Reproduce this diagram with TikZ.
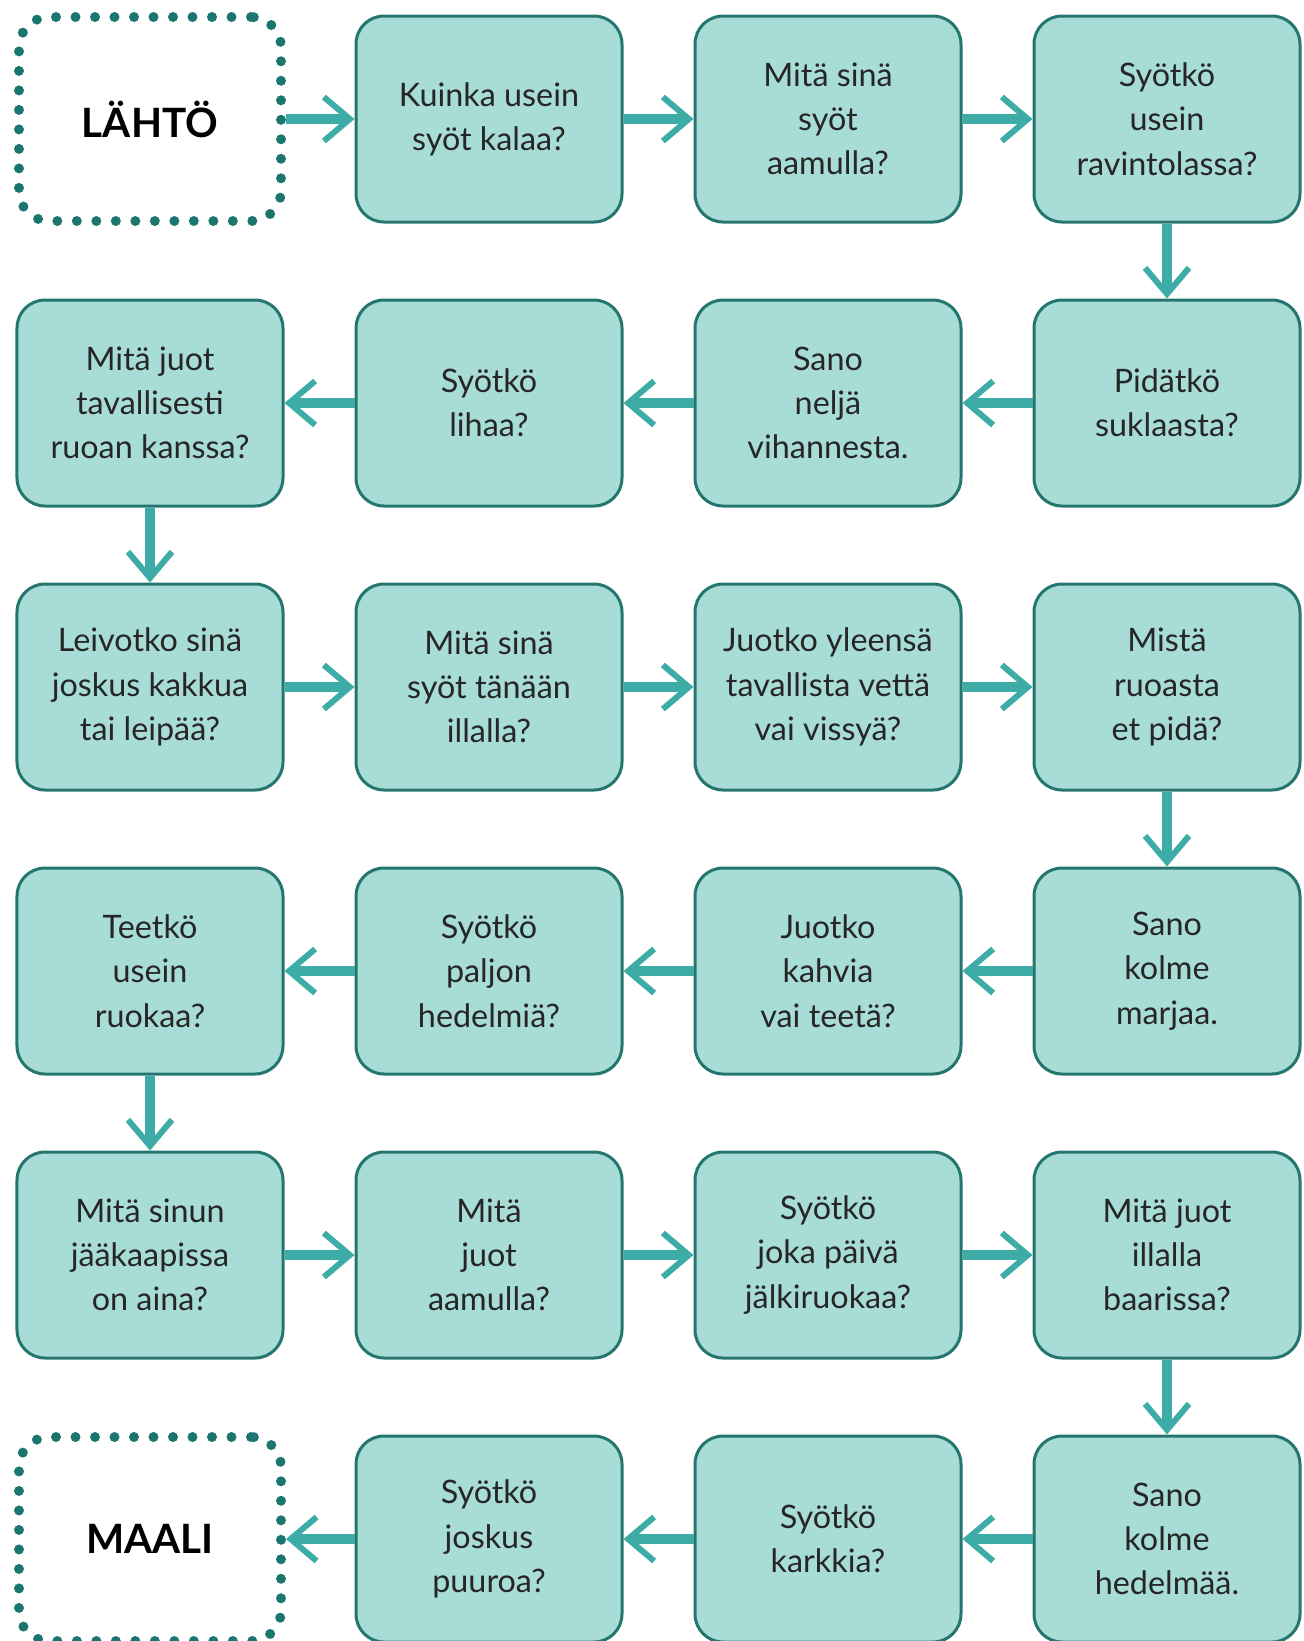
\documentclass[tikz,border=0pt]{standalone}
\usepackage{fontspec}
\setmainfont{Lato}
\usetikzlibrary{positioning, arrows.meta}

\definecolor{boxfill}{RGB}{168,220,214}
\definecolor{boxline}{RGB}{38,118,112}
\definecolor{arrowcol}{RGB}{62,172,166}
\definecolor{dotcol}{RGB}{28,118,112}

\begin{document}
\begin{tikzpicture}[>={Straight Barb[length=2.6mm, width=4.4mm, line width=0.6mm]},
    font=\fontsize{9.2}{12.6}\selectfont, node distance=7.5mm and 7.0mm,
    qbox/.style={draw=boxline, line width=0.3mm, fill=boxfill, rounded corners=2.8mm,
      minimum width=26.6mm, minimum height=20.6mm, align=center, inner sep=1pt,
      text=black!85},
    endbox/.style={draw=dotcol, line width=1mm, line cap=round,
      dash pattern=on 0pt off 1.95mm, rounded corners=3mm,
      minimum width=26.2mm, minimum height=20.4mm,
      font=\fontsize{11.5}{14}\selectfont\bfseries},
    link/.style={->, draw=arrowcol, line width=1mm}]
    \useasboundingbox (0,0) rectangle (13.04,-16.41);
    % row 1
    \node[endbox] (start) at (1.5,-1.19) {LÄHTÖ};
    \node[qbox] (q1) at (4.89,-1.19) {Kuinka usein\\syöt kalaa?};
    \node[qbox, right=of q1] (q2) {Mitä sinä\\syöt\\aamulla?};
    \node[qbox, right=of q2] (q3) {Syötkö\\usein\\ravintolassa?};
    % row 2
    \node[qbox, below=of q3] (q4) {Pidätkö\\suklaasta?};
    \node[qbox, left=of q4]  (q5) {Sano\\neljä\\vihannesta.};
    \node[qbox, left=of q5]  (q6) {Syötkö\\lihaa?};
    \node[qbox, left=of q6]  (q7) {Mitä juot\\tavallisesti\\ruoan kanssa?};
    % row 3
    \node[qbox, below=of q7] (q8)  {Leivotko sinä\\joskus kakkua\\tai leipää?};
    \node[qbox, right=of q8] (q9)  {Mitä sinä\\syöt tänään\\illalla?};
    \node[qbox, right=of q9] (q10) {Juotko yleensä\\tavallista vettä\\vai vissyä?};
    \node[qbox, right=of q10] (q11) {Mistä\\ruoasta\\et pidä?};
    % row 4
    \node[qbox, below=of q11] (q12) {Sano\\kolme\\marjaa.};
    \node[qbox, left=of q12]  (q13) {Juotko\\kahvia\\vai teetä?};
    \node[qbox, left=of q13]  (q14) {Syötkö\\paljon\\hedelmiä?};
    \node[qbox, left=of q14]  (q15) {Teetkö\\usein\\ruokaa?};
    % row 5
    \node[qbox, below=of q15] (q16) {Mitä sinun\\jääkaapissa\\on aina?};
    \node[qbox, right=of q16] (q17) {Mitä\\juot\\aamulla?};
    \node[qbox, right=of q17] (q18) {Syötkö\\joka päivä\\jälkiruokaa?};
    \node[qbox, right=of q18] (q19) {Mitä juot\\illalla\\baarissa?};
    % row 6
    \node[qbox, below=of q19] (q20) {Sano\\kolme\\hedelmää.};
    \node[qbox, left=of q20]  (q21) {Syötkö\\karkkia?};
    \node[qbox, left=of q21]  (q22) {Syötkö\\joskus\\puuroa?};
    \node[endbox] (goal) at (start |- q22) {MAALI};
    % arrows
    \draw[link] (start) -- (q1);
    \draw[link] (q1) -- (q2);
    \draw[link] (q2) -- (q3);
    \draw[link] (q3) -- (q4);
    \draw[link] (q4) -- (q5);
    \draw[link] (q5) -- (q6);
    \draw[link] (q6) -- (q7);
    \draw[link] (q7) -- (q8);
    \draw[link] (q8) -- (q9);
    \draw[link] (q9) -- (q10);
    \draw[link] (q10) -- (q11);
    \draw[link] (q11) -- (q12);
    \draw[link] (q12) -- (q13);
    \draw[link] (q13) -- (q14);
    \draw[link] (q14) -- (q15);
    \draw[link] (q15) -- (q16);
    \draw[link] (q16) -- (q17);
    \draw[link] (q17) -- (q18);
    \draw[link] (q18) -- (q19);
    \draw[link] (q19) -- (q20);
    \draw[link] (q20) -- (q21);
    \draw[link] (q21) -- (q22);
    \draw[link] (q22) -- (goal);
\end{tikzpicture}
\end{document}
